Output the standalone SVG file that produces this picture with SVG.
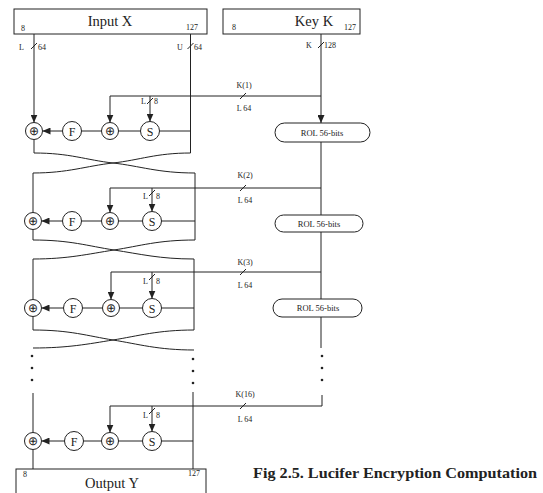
<svg xmlns="http://www.w3.org/2000/svg" width="543" height="493" viewBox="0 0 543 493">
<style>
.ln{stroke:#222;stroke-width:1;fill:none}
.nd{fill:#fff;stroke:#222;stroke-width:1}
.t{font-family:"Liberation Serif",serif;fill:#222}
.sm{font-size:8px}
.lb{font-size:14.5px;text-anchor:middle}
.cl{font-size:12px;text-anchor:middle}
.rol{font-size:8.5px;text-anchor:middle}
.dot{fill:#222}
</style>
<defs>
<marker id="ah" viewBox="0 0 8 7" refX="8" refY="3.5" markerWidth="8" markerHeight="7" markerUnits="userSpaceOnUse" orient="auto">
<path d="M0,0 L8,3.5 L0,7 z" fill="#222"/>
</marker>
</defs>
<rect width="543" height="493" fill="#fff"/>

<g id="connectors">
<path class="ln" d="M34,34 V122.5" marker-end="url(#ah)"/>
<path class="ln" d="M190.5,34 V153"/>
<path class="ln" d="M321,34 V123" marker-end="url(#ah)"/>
<path class="ln" d="M31,49 L37,43 M187.5,49 L193.5,43 M318,48 L324,42"/>
<!-- round 1 -->
<path class="ln" d="M190.5,131 H159.5 M140.5,131 H118.5 M101.5,131 H81.5"/>
<path class="ln" d="M62.5,131 H42.5" marker-end="url(#ah)"/>
<path class="ln" d="M321,96 H110 V122.5" marker-end="url(#ah)"/>
<path class="ln" d="M150,96 V121.5" marker-end="url(#ah)"/>
<path class="ln" d="M147,104 L153,98 M240,99 L246,93"/>
<path class="ln" d="M34,139.5 V153"/>
<path class="ln" d="M34,153 C70,153 86,160 113,163 C140,166 158,173 195,173"/>
<path class="ln" d="M190.5,153 C156,153 140,160 113,163 C86,166 68,173 33,173"/>
<!-- round 2 -->
<path class="ln" d="M33,173 V212.5 M195,173 V240"/>
<path class="ln" d="M195,221 H161.5 M142.5,221 H118.5 M101.5,221 H81.5"/>
<path class="ln" d="M62.5,221 H41.5" marker-end="url(#ah)"/>
<path class="ln" d="M321,188 H110 V212.5" marker-end="url(#ah)"/>
<path class="ln" d="M152,188 V211.5" marker-end="url(#ah)"/>
<path class="ln" d="M149,196 L155,190 M240,191 L246,185"/>
<path class="ln" d="M33,229.5 V240"/>
<path class="ln" d="M33,240 C70,240 88,246 114,250 C140,254 160,259 194,259"/>
<path class="ln" d="M195,240 C158,240 140,246 114,250 C88,254 68,259 33,259"/>
<!-- round 3 -->
<path class="ln" d="M33,259 V299.5 M194,259 V330"/>
<path class="ln" d="M194,308 H161.5 M142.5,308 H119.5 M102.5,308 H82.5"/>
<path class="ln" d="M63.5,308 H41.5" marker-end="url(#ah)"/>
<path class="ln" d="M321,272 H111 V299.5" marker-end="url(#ah)"/>
<path class="ln" d="M152,272 V298.5" marker-end="url(#ah)"/>
<path class="ln" d="M149,280 L155,274 M240,275 L246,269"/>
<path class="ln" d="M33,316.5 V330"/>
<path class="ln" d="M33,330 C70,330 88,336 113,340 C138,344 158,350 194,350"/>
<path class="ln" d="M194,330 C158,330 138,336 113,340 C88,344 68,348 33,348"/>
<!-- key chain -->
<path class="ln" d="M321,142 V215 M321,232 V299 M321,317 V348"/>
<!-- round 16 -->
<path class="ln" d="M33,393 V432.5 M193,392 V469"/>
<path class="ln" d="M193,441 H161.5 M142.5,441 H118.5 M101.5,441 H83.5"/>
<path class="ln" d="M64.5,441 H41.5" marker-end="url(#ah)"/>
<path class="ln" d="M322,395 V406 H110 V432.5" marker-end="url(#ah)"/>
<path class="ln" d="M152,406 V431.5" marker-end="url(#ah)"/>
<path class="ln" d="M149,414 L155,408 M240,409 L246,403"/>
<path class="ln" d="M33,449.5 V469"/>
</g>

<g id="dots">
<circle class="dot" cx="32" cy="356" r="1.3"/><circle class="dot" cx="32" cy="368" r="1.3"/><circle class="dot" cx="32" cy="380" r="1.3"/>
<circle class="dot" cx="193" cy="359" r="1.3"/><circle class="dot" cx="193" cy="371" r="1.3"/><circle class="dot" cx="193" cy="383" r="1.3"/>
<circle class="dot" cx="322" cy="356" r="1.3"/><circle class="dot" cx="322" cy="368" r="1.3"/><circle class="dot" cx="322" cy="380" r="1.3"/>
</g>

<g id="labels" class="t sm">
<text x="19" y="50">L</text><text x="38" y="50">64</text>
<text x="177" y="50">U</text><text x="194" y="50">64</text>
<text x="306" y="48">K</text><text x="324" y="48">128</text>
<text x="146" y="104" text-anchor="end">L</text><text x="154" y="104">8</text>
<text x="244" y="88" text-anchor="middle">K(1)</text><text x="244" y="111" text-anchor="middle">L 64</text>
<text x="148" y="199" text-anchor="end">L</text><text x="156" y="199">8</text>
<text x="245" y="178" text-anchor="middle">K(2)</text><text x="245" y="203" text-anchor="middle">L 64</text>
<text x="148" y="284" text-anchor="end">L</text><text x="156" y="284">8</text>
<text x="245" y="265" text-anchor="middle">K(3)</text><text x="245" y="288" text-anchor="middle">L 64</text>
<text x="148" y="418" text-anchor="end">L</text><text x="156" y="418">8</text>
<text x="245" y="397" text-anchor="middle">K(16)</text><text x="245" y="422" text-anchor="middle">L 64</text>
</g>

<g id="input-x">
<rect class="nd" x="14" y="9" width="193" height="25"/>
<text class="t lb" x="110" y="26">Input X</text>
<text class="t sm" x="21" y="31">8</text>
<text class="t sm" x="186" y="30">127</text>
</g>
<g id="key-k">
<rect class="nd" x="223" y="9" width="137" height="25"/>
<text class="t lb" x="314" y="26">Key K</text>
<text class="t sm" x="232" y="30">8</text>
<text class="t sm" x="344" y="30">127</text>
</g>
<g id="output-y">
<rect class="nd" x="16" y="469" width="190" height="30"/>
<text class="t lb" x="112" y="488">Output Y</text>
<text class="t sm" x="23" y="477">8</text>
<text class="t sm" x="188" y="476">127</text>
</g>

<g id="rol1"><rect class="nd" x="275" y="123" width="95" height="19" rx="9.5"/><text class="t rol" x="322" y="135.5">ROL 56-bits</text></g>
<g id="rol2"><rect class="nd" x="275" y="215" width="88" height="17" rx="8.5"/><text class="t rol" x="319" y="226.5">ROL 56-bits</text></g>
<g id="rol3"><rect class="nd" x="273" y="299" width="89" height="18" rx="9"/><text class="t rol" x="318" y="311">ROL 56-bits</text></g>

<g id="r1-xor-out"><circle class="nd" cx="34" cy="131" r="8.5"/><text class="t cl" x="34" y="135">⊕</text></g>
<g id="r1-f"><circle class="nd" cx="72" cy="131" r="9.5"/><text class="t cl" x="72" y="135.5">F</text></g>
<g id="r1-xor-key"><circle class="nd" cx="110" cy="131" r="8.5"/><text class="t cl" x="110" y="135">⊕</text></g>
<g id="r1-s"><circle class="nd" cx="150" cy="131" r="9.5"/><text class="t cl" x="150" y="135.5">S</text></g>
<g id="r2-xor-out"><circle class="nd" cx="33" cy="221" r="8.5"/><text class="t cl" x="33" y="225">⊕</text></g>
<g id="r2-f"><circle class="nd" cx="72" cy="221" r="9.5"/><text class="t cl" x="72" y="225.5">F</text></g>
<g id="r2-xor-key"><circle class="nd" cx="110" cy="221" r="8.5"/><text class="t cl" x="110" y="225">⊕</text></g>
<g id="r2-s"><circle class="nd" cx="152" cy="221" r="9.5"/><text class="t cl" x="152" y="225.5">S</text></g>
<g id="r3-xor-out"><circle class="nd" cx="33" cy="308" r="8.5"/><text class="t cl" x="33" y="312">⊕</text></g>
<g id="r3-f"><circle class="nd" cx="73" cy="308" r="9.5"/><text class="t cl" x="73" y="312.5">F</text></g>
<g id="r3-xor-key"><circle class="nd" cx="111" cy="308" r="8.5"/><text class="t cl" x="111" y="312">⊕</text></g>
<g id="r3-s"><circle class="nd" cx="152" cy="308" r="9.5"/><text class="t cl" x="152" y="312.5">S</text></g>
<g id="r16-xor-out"><circle class="nd" cx="33" cy="441" r="8.5"/><text class="t cl" x="33" y="445">⊕</text></g>
<g id="r16-f"><circle class="nd" cx="74" cy="441" r="9.5"/><text class="t cl" x="74" y="445.5">F</text></g>
<g id="r16-xor-key"><circle class="nd" cx="110" cy="441" r="8.5"/><text class="t cl" x="110" y="445">⊕</text></g>
<g id="r16-s"><circle class="nd" cx="152" cy="441" r="9.5"/><text class="t cl" x="152" y="445.5">S</text></g>

<g id="caption">
<text class="t" x="253" y="478" font-size="14" font-weight="bold" textLength="284" lengthAdjust="spacingAndGlyphs">Fig 2.5. Lucifer Encryption Computation</text>
</g>
</svg>
